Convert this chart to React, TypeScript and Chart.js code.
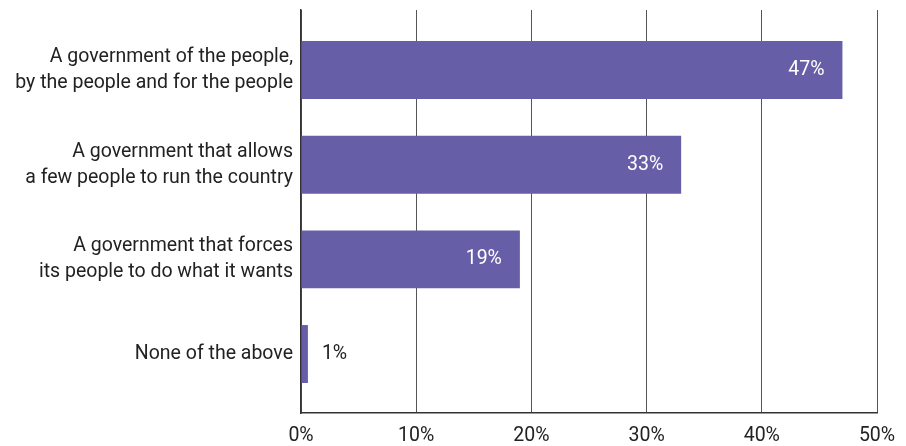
import React, { useEffect, useRef } from "react";
import { Chart, registerables } from "chart.js";

Chart.register(...registerables);

const categories: string[][] = [
  ["A government of the people,", "by the people and for the people"],
  ["A government that allows", "a few people to run the country"],
  ["A government that forces", "its people to do what it wants"],
  ["None of the above"],
];
const values: number[] = [47, 33, 19, 0.6];
const valueLabels: string[] = ["47%", "33%", "19%", "1%"];
const xTicks: number[] = [0, 10, 20, 30, 40, 50];

const FONT = "Roboto, 'Noto Sans', sans-serif";
const FSIZE = 19.5;

const labelPlugin = {
  id: "barLabels",
  afterDatasetsDraw(chart: any) {
    const ctx = chart.ctx;
    const meta = chart.getDatasetMeta(0);
    ctx.save();
    ctx.font = `${FSIZE}px ${FONT}`;
    ctx.textBaseline = "middle";
    meta.data.forEach((bar: any, i: number) => {
      const v = values[i];
      if (v >= 5) {
        ctx.fillStyle = "#ffffff";
        ctx.textAlign = "right";
        ctx.fillText(valueLabels[i], bar.x - 18, bar.y);
      } else {
        ctx.fillStyle = "#222222";
        ctx.textAlign = "left";
        ctx.fillText(valueLabels[i], bar.x + 14, bar.y);
      }
    });
    ctx.restore();
  },
};

export default function App() {
  const ref = useRef<HTMLCanvasElement | null>(null);
  useEffect(() => {
    if (!ref.current) return;
    const chart = new Chart(ref.current, {
      type: "bar",
      data: {
        datasets: [
          {
            data: values.map((v, i) => ({ x: v, y: i })),
            backgroundColor: "#665fa7",
            borderWidth: 0,
            barPercentage: 0.612,
            categoryPercentage: 1,
          },
        ],
      },
      options: {
        indexAxis: "y",
        animation: false,
        responsive: true,
        maintainAspectRatio: false,
        layout: { padding: { top: 10, right: 29, bottom: 0, left: 0 } },
        plugins: {
          legend: { display: false },
          tooltip: { enabled: false },
        },
        scales: {
          x: {
            type: "linear",
            min: 0,
            max: 50,
            afterBuildTicks: (axis: any) => {
              axis.ticks = xTicks.map((v) => ({ value: v }));
            },
            afterFit: (axis: any) => {
              axis.height = 33;
              axis.paddingLeft = 0;
              axis.paddingRight = 0;
            },
            ticks: {
              callback: (v: any) => `${v}%`,
              color: "#222222",
              font: { family: FONT, size: FSIZE },
              padding: 11,
              maxRotation: 0,
            },
            grid: {
              color: "#555555",
              lineWidth: 1,
              drawTicks: false,
            },
            border: { display: true, color: "#333333", width: 1.5 },
          },
          y: {
            type: "linear",
            reverse: true,
            offset: false,
            min: -0.634,
            max: 3.623,
            afterBuildTicks: (axis: any) => {
              axis.ticks = categories.map((_, i) => ({ value: i }));
            },
            afterFit: (axis: any) => {
              axis.width = 301;
              axis.paddingTop = 0;
              axis.paddingBottom = 0;
            },
            ticks: {
              callback: (v: any) => categories[v] ?? "",
              color: "#222222",
              font: { family: FONT, size: FSIZE, lineHeight: 1.33 },
              padding: 8,
            },
            grid: { display: false, drawTicks: false, offset: false },
            border: { display: true, color: "#333333", width: 1.5 },
          },
        },
      },
      plugins: [labelPlugin],
    } as any);
    return () => chart.destroy();
  }, []);
  return (
    <div style={{ position: "fixed", left: 0, top: 0, width: 906, height: 446, background: "#fff" }}>
      <canvas ref={ref} />
    </div>
  );
}
